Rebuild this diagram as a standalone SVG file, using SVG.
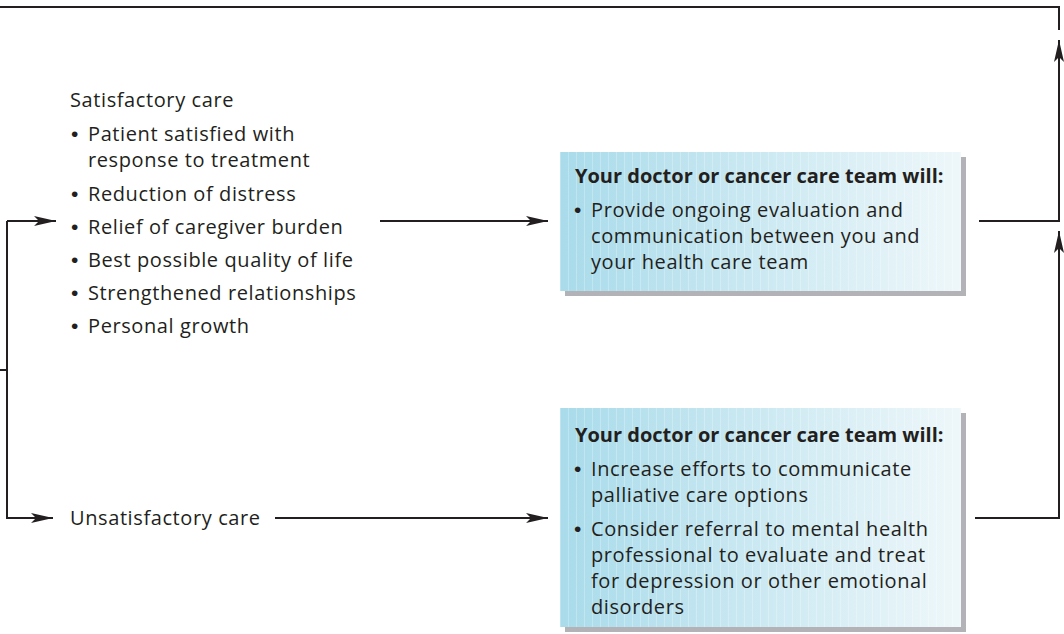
<svg xmlns="http://www.w3.org/2000/svg" width="1064" height="634" viewBox="0 0 1064 634">
<style>
text{font-family:"Open Sans","Noto Sans","Liberation Sans",sans-serif;font-size:20px;letter-spacing:0.6px;fill:#231f20}
.b{font-weight:bold;letter-spacing:0}
.d{font-family:"Liberation Sans","DejaVu Sans",sans-serif;font-size:21px}
.ln{fill:none;stroke:#231f20;stroke-width:2}
.shadow{fill:#b3b3b7}
</style>
<defs>
<linearGradient id="g" x1="0" y1="0" x2="1" y2="0">
<stop offset="0" stop-color="#a9dbea"/>
<stop offset="1" stop-color="#eef7fa"/>
</linearGradient>
<pattern id="st" width="8" height="10" patternUnits="userSpaceOnUse">
<rect x="0" y="0" width="1" height="10" fill="#ffffff" fill-opacity="0.25"/>
</pattern>
<marker id="ah" viewBox="0 0 22 10" refX="22" refY="5" markerWidth="22" markerHeight="10" markerUnits="userSpaceOnUse" orient="auto">
<path d="M0,0 L22,5 L0,10 L5,5 z" fill="#231f20"/>
</marker>
</defs>
<g id="connectors">
<path class="ln" d="M0,7 H1059 V30"/>
<path class="ln" d="M979,221 H1059 V40" marker-end="url(#ah)"/>
<path class="ln" d="M975,518 H1059 V231" marker-end="url(#ah)"/>
<path class="ln" d="M0,370 H7"/>
<path class="ln" d="M7,221 V518 H53" marker-end="url(#ah)"/>
<path class="ln" d="M7,221 H56" marker-end="url(#ah)"/>
<path class="ln" d="M380,221 H548" marker-end="url(#ah)"/>
<path class="ln" d="M275,518 H548" marker-end="url(#ah)"/>
</g>
<g id="satisfactory">
<text x="70" y="107">Satisfactory care</text>
<text y="141"><tspan class="d" x="71">•</tspan><tspan x="88">Patient satisfied with</tspan></text>
<text x="88" y="167">response to treatment</text>
<text y="201"><tspan class="d" x="71">•</tspan><tspan x="88">Reduction of distress</tspan></text>
<text y="234"><tspan class="d" x="71">•</tspan><tspan x="88">Relief of caregiver burden</tspan></text>
<text y="267"><tspan class="d" x="71">•</tspan><tspan x="88">Best possible quality of life</tspan></text>
<text y="300"><tspan class="d" x="71">•</tspan><tspan x="88">Strengthened relationships</tspan></text>
<text y="333"><tspan class="d" x="71">•</tspan><tspan x="88">Personal growth</tspan></text>
</g>
<g id="unsatisfactory">
<text x="70" y="525">Unsatisfactory care</text>
</g>
<g id="box1">
<rect class="shadow" x="565" y="157" width="401" height="139"/>
<rect x="560" y="152" width="401" height="139" fill="url(#g)"/>
<rect x="560" y="152" width="401" height="139" fill="url(#st)"/>
<text class="b" x="575" y="183">Your doctor or cancer care team will:</text>
<text y="217"><tspan class="d" x="574">•</tspan><tspan x="591">Provide ongoing evaluation and</tspan></text>
<text x="591" y="243">communication between you and</text>
<text x="591" y="269">your health care team</text>
</g>
<g id="box2">
<rect class="shadow" x="565" y="413" width="401" height="219"/>
<rect x="560" y="408" width="401" height="219" fill="url(#g)"/>
<rect x="560" y="408" width="401" height="219" fill="url(#st)"/>
<text class="b" x="575" y="442">Your doctor or cancer care team will:</text>
<text y="476"><tspan class="d" x="574">•</tspan><tspan x="591">Increase efforts to communicate</tspan></text>
<text x="591" y="502">palliative care options</text>
<text y="536"><tspan class="d" x="574">•</tspan><tspan x="591">Consider referral to mental health</tspan></text>
<text x="591" y="562">professional to evaluate and treat</text>
<text x="591" y="588">for depression or other emotional</text>
<text x="591" y="614">disorders</text>
</g>
</svg>
